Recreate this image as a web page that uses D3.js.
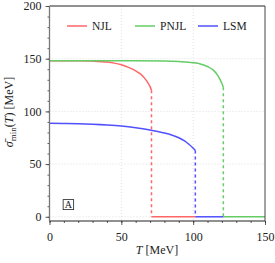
<!DOCTYPE html>
<html>
<head>
<meta charset="utf-8">
<script src="https://cdn.jsdelivr.net/npm/d3@7"></script>
<style>
  body { margin: 0; background: #fff; }
  svg { display: block; }
  text { font-family: "Liberation Serif", "DejaVu Serif", serif; fill: #222; }
</style>
</head>
<body>
<div id="wrapper"></div>
<script>
// curves: [T, sigma]
const njl = [[0,148],[10,148],[20,148],[30,147.7],[40,146.8],[45,145.8],[50,144.2],[55,141.8],[60,138.5],[63,135.8],[66,131.8],[68,128.2],[70,123.5],[71,120]];
const pnjl = [[0,148],[20,148],[40,148],[60,148],[80,147.8],[90,147.3],[100,146.2],[105,145],[110,142.6],[114,139.2],[117,134.5],[119,129.5],[120,126.5],[121,123]];
const lsm = [[0,88.7],[10,88.6],[20,88.3],[30,87.8],[40,87.1],[50,86.1],[60,84.5],[70,82.3],[80,79.5],[85,77.6],[90,75],[94,72],[97,68.8],[99,66.5],[101.5,63]];

// where each model jumps to zero, and the zero plateau it owns (NJL, PNJL, LSM)
const jumpT = [71, 121, 101.5];
const zeroSeg = [[71, 101.5], [121, 150], [101.5, 121]];

const names = ["NJL", "PNJL", "LSM"];
const colors = ["#ff6666", "#66cc66", "#5050ff"];
const series = [njl, pnjl, lsm];

const xTicks = [0, 50, 100, 150];
const yTicks = [0, 50, 100, 150, 200];

const width = 275;
const height = 263;

let dimensions = {
    width: width,
    height: height,
    margin: { top: 6, right: 10, bottom: 42, left: 49.5 }
};
dimensions.boundedW = dimensions.width - dimensions.margin.left - dimensions.margin.right;
dimensions.boundedH = dimensions.height - dimensions.margin.top - dimensions.margin.bottom;

const wrapper = d3.select('#wrapper')
    .append('svg')
    .attr('width', dimensions.width)
    .attr('height', dimensions.height);

const bounds = wrapper.append('g')
    .attr('transform', `translate(${dimensions.margin.left},${dimensions.margin.top})`);

const x = d3.scaleLinear().domain([0, 150]).range([0, dimensions.boundedW]);
const y = d3.scaleLinear().domain([-4, 200]).range([dimensions.boundedH, 0]);

/// GRID
bounds.selectAll('.gx').data([50, 100]).enter().append('line')
    .attr('x1', d => x(d)).attr('x2', d => x(d))
    .attr('y1', 0).attr('y2', dimensions.boundedH)
    .style('stroke', '#d8d8d8').style('stroke-width', 0.8).style('stroke-dasharray', '1,2');
bounds.selectAll('.gy').data([0, 50, 100, 150]).enter().append('line')
    .attr('x1', 0).attr('x2', dimensions.boundedW)
    .attr('y1', d => y(d)).attr('y2', d => y(d))
    .style('stroke', '#d8d8d8').style('stroke-width', 0.8).style('stroke-dasharray', '1,2');

/// AXES
const xAxis = d3.axisBottom(x).tickValues(xTicks).tickSize(4).tickPadding(7).tickFormat(d3.format('d'));
const xMinor = d3.axisBottom(x).tickValues(d3.range(0, 151, 10)).tickSize(2).tickFormat('');
const yAxis = d3.axisLeft(y).tickValues(yTicks).tickSize(4).tickPadding(4).tickFormat(d3.format('d'));
const yMinor = d3.axisLeft(y).tickValues(d3.range(0, 201, 10)).tickSize(2).tickFormat('');

function styleAxis(g) {
    g.select('.domain').remove();
    g.selectAll('line').style('stroke', '#333').style('stroke-width', 0.8);
    g.selectAll('text').style('font-size', '12px').style('font-family', '"Liberation Serif", serif').attr('fill', '#222');
}

bounds.append('g').attr('transform', `translate(0,${dimensions.boundedH})`).call(xMinor).call(styleAxis);
bounds.append('g').attr('transform', `translate(0,${dimensions.boundedH})`).call(xAxis).call(styleAxis);
bounds.append('g').call(yMinor).call(styleAxis);
bounds.append('g').call(yAxis).call(styleAxis);

/// CURVES
const line = d3.line().x(d => x(d[0])).y(d => y(d[1])).curve(d3.curveMonotoneX);

series.forEach((s, i) => {
    bounds.append('path')
        .datum(s)
        .attr('d', line)
        .style('fill', 'none')
        .style('stroke', colors[i])
        .style('stroke-width', 1.5);

    // dashed jump down to zero
    bounds.append('line')
        .attr('x1', x(jumpT[i])).attr('x2', x(jumpT[i]))
        .attr('y1', y(s[s.length - 1][1])).attr('y2', y(0))
        .style('stroke', colors[i]).style('stroke-width', 1.5)
        .style('stroke-dasharray', '3,3');

    // zero plateau
    bounds.append('line')
        .attr('x1', x(zeroSeg[i][0])).attr('x2', x(zeroSeg[i][1]))
        .attr('y1', y(0)).attr('y2', y(0))
        .style('stroke', colors[i]).style('stroke-width', 1.5);
});

/// FRAME
bounds.append('line').attr('x1', 0).attr('x2', dimensions.boundedW).attr('y1', 0).attr('y2', 0)
    .style('stroke', '#222').style('stroke-width', 1);
bounds.append('line').attr('x1', dimensions.boundedW).attr('x2', dimensions.boundedW).attr('y1', 0).attr('y2', dimensions.boundedH)
    .style('stroke', '#444').style('stroke-width', 1);
bounds.append('line').attr('x1', 0).attr('x2', dimensions.boundedW).attr('y1', dimensions.boundedH).attr('y2', dimensions.boundedH)
    .style('stroke', '#222').style('stroke-width', 1);
bounds.append('line').attr('x1', 0).attr('x2', 0).attr('y1', 0).attr('y2', dimensions.boundedH)
    .style('stroke', '#777').style('stroke-width', 1.3);

/// LEGEND
const legendX = [67, 135, 198];
const legend = bounds.selectAll('.legend').data(names).enter().append('g')
    .attr('transform', (d, i) => `translate(${legendX[i] - dimensions.margin.left},${20})`);
legend.append('line')
    .attr('x1', 0).attr('x2', 20).attr('y1', 0).attr('y2', 0)
    .style('stroke', (d, i) => colors[i]).style('stroke-width', 1.5);
legend.append('text')
    .attr('x', 25).attr('y', 4)
    .style('font-size', '11.5px')
    .text(d => d);

/// PANEL LABEL
bounds.append('rect')
    .attr('x', x(9.5)).attr('y', y(16.3))
    .attr('width', 10.5).attr('height', 10)
    .style('fill', 'none').style('stroke', '#222').style('stroke-width', 0.8);
bounds.append('text')
    .attr('x', x(9.5) + 5.25).attr('y', y(16.3) + 8.5)
    .attr('text-anchor', 'middle')
    .style('font-size', '10px')
    .text('A');

/// AXIS LABELS
wrapper.append('text')
    .attr('x', 157).attr('y', 254)
    .attr('text-anchor', 'middle')
    .style('font-size', '12px')
    .html('<tspan font-style="italic">T</tspan> [MeV]');

const yl = wrapper.append('text')
    .attr('transform', 'translate(13,112) rotate(-90)')
    .attr('text-anchor', 'middle')
    .style('font-size', '12px');
yl.append('tspan').attr('font-style', 'italic').text('σ\u0304');
yl.append('tspan').attr('font-size', '9px').attr('dy', 2.5).text('min');
yl.append('tspan').attr('dy', -2.5).text('(');
yl.append('tspan').attr('font-style', 'italic').text('T');
yl.append('tspan').text(') [MeV]');
</script>
</body>
</html>
